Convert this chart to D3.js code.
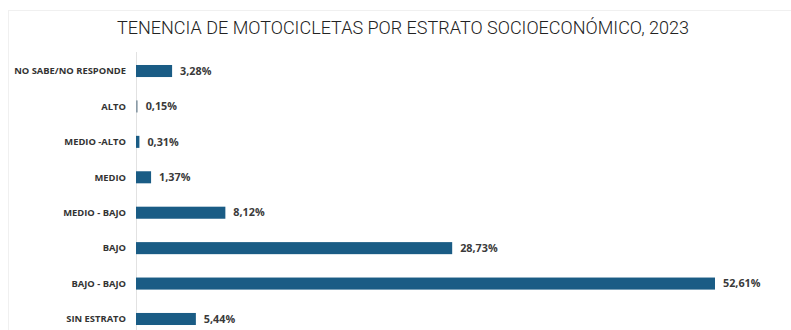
<!DOCTYPE html>
<html>
<head>
<meta charset="utf-8">
<script src="https://cdn.jsdelivr.net/npm/d3@7"></script>
<style>
  html, body { margin: 0; padding: 0; background: #fff; }
  svg { display: block; }
</style>
</head>
<body>
<svg id="chart" width="791" height="330"></svg>
<script>
// Motorcycle ownership by socioeconomic stratum, 2023 (%)
const categories = [
  "NO SABE/NO RESPONDE", "ALTO", "MEDIO -ALTO", "MEDIO",
  "MEDIO - BAJO", "BAJO", "BAJO - BAJO", "SIN ESTRATO"
];
const values = [3.28, 0.15, 0.31, 1.37, 8.12, 28.73, 52.61, 5.44];
const valueLabels = ["3,28%", "0,15%", "0,31%", "1,37%", "8,12%", "28,73%", "52,61%", "5,44%"];
const title = "TENENCIA DE MOTOCICLETAS POR ESTRATO SOCIOECONÓMICO, 2023";

const svg = d3.select("#chart");
const W = 791, H = 330;
const x0 = 136;

// faint frame around the panel
svg.append("rect")
  .attr("x", 8.5).attr("y", 10.5)
  .attr("width", W - 8).attr("height", H)
  .attr("fill", "none").attr("stroke", "#f0f0f0");

svg.append("text")
  .attr("x", 403).attr("y", 34)
  .attr("text-anchor", "middle")
  .attr("font-family", "Roboto, sans-serif")
  .attr("font-weight", 300)
  .attr("font-size", 18)
  .attr("fill", "#222")
  .attr("textLength", 572)
  .attr("lengthAdjust", "spacingAndGlyphs")
  .text(title);

const x = d3.scaleLinear().domain([0, 52.61]).range([x0, 715]);
const y = d3.scaleBand().domain(categories).range([53.3, 336.7]).paddingInner(0.66).paddingOuter(0.33);

// baseline
svg.append("line")
  .attr("x1", x0 + 0.5).attr("x2", x0 + 0.5)
  .attr("y1", 52).attr("y2", H)
  .attr("stroke", "#e2e2e2").attr("stroke-width", 1);

const rows = svg.append("g").selectAll("g")
  .data(categories.map((c, i) => ({ c, v: values[i], l: valueLabels[i] })))
  .join("g");

rows.append("rect")
  .attr("x", x0)
  .attr("y", d => y(d.c))
  .attr("width", d => Math.max(1.5, x(d.v) - x0))
  .attr("height", y.bandwidth())
  .attr("fill", d => d.v < 0.2 ? "#8a9aa6" : "#1a5c85");

rows.append("text")
  .attr("x", 126)
  .attr("y", d => y(d.c) + y.bandwidth() / 2)
  .attr("dy", "0.35em")
  .attr("text-anchor", "end")
  .attr("font-family", "'Open Sans', sans-serif")
  .attr("font-weight", 700)
  .attr("font-size", 9.4)
  .attr("fill", "#333")
  .text(d => d.c);

rows.append("text")
  .attr("x", d => Math.max(x(d.v), x0 + 1.5) + 8)
  .attr("y", d => y(d.c) + y.bandwidth() / 2)
  .attr("dy", "0.35em")
  .attr("font-family", "'Open Sans', sans-serif")
  .attr("font-weight", 700)
  .attr("font-size", 10.8)
  .attr("fill", "#3a3a3a")
  .text(d => d.l);
</script>
</body>
</html>
